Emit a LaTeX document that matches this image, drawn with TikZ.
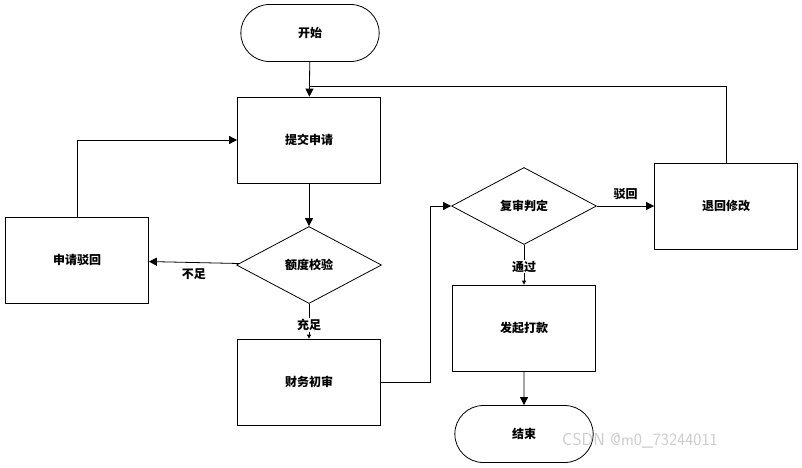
\documentclass[tikz,border=0pt]{standalone}
\usepackage{fontspec}
\newfontfamily\cjk{Noto Sans CJK SC}
\usetikzlibrary{shapes.geometric,shapes.misc,arrows.meta,positioning}

\begin{document}
\begin{tikzpicture}[
	x = 1pt, y = -1pt,
	every node/.style = {font=\cjk\large\bfseries},
	box/.style = {draw, thick, minimum width=143pt, minimum height=86pt},
	term/.style = {draw, thick, rounded rectangle, minimum width=145pt, minimum height=57pt},
	decide/.style = {draw, thick, diamond, aspect=1.9, minimum width=145pt, minimum height=77pt, inner sep=0pt},
	flow/.style = {thick, -{Triangle[length=8pt,width=8pt]}},
	small/.style = {thick, -{Triangle[length=4pt,width=4pt]}}
	]
	\useasboundingbox (0,0) rectangle (802,467);

	\node[term] (start) at (310,33) {开始};
	\node[box] (submit) at (309,140) {提交申请};
	\node[decide] (quota) at (309,265) {额度校验};
	\node[box] (reject) at (77,260) {申请驳回};
	\node[box] (first) at (309,382) {财务初审};
	\node[decide] (review) at (524,206) {复审判定};
	\node[box] (modify) at (726,206) {退回修改};
	\node[box] (pay) at (524,328) {发起打款};
	\node[term] (end) at (524,434) {结束};
	\coordinate (join) at (310,86);

	\draw[flow] (start) -- (submit);
	\draw[thick] (modify.north) |- (join);
	\draw[flow] (submit) -- (quota);
	\draw[flow] (quota) -- node[below=2pt, pos=0.5]{不足} (reject);
	\draw[flow] (reject.north) |- (submit.west);
	\draw[small] (quota) -- node[pos=0.6, fill=white, inner sep=1pt]{充足} (first);
	\draw[flow] (first.east) -- (430,382) |- (review.west);
	\draw[flow] (review) -- node[above=3pt]{驳回} (modify);
	\draw[small] (review) -- node[pos=0.55, fill=white, inner sep=1pt]{通过} (pay);
	\draw[flow] (pay) -- (end);

	\node[font=\sffamily\LARGE, text=gray!40] (mark) at (640,441) {CSDN @m0\_73244011};
\end{tikzpicture}
\end{document}
